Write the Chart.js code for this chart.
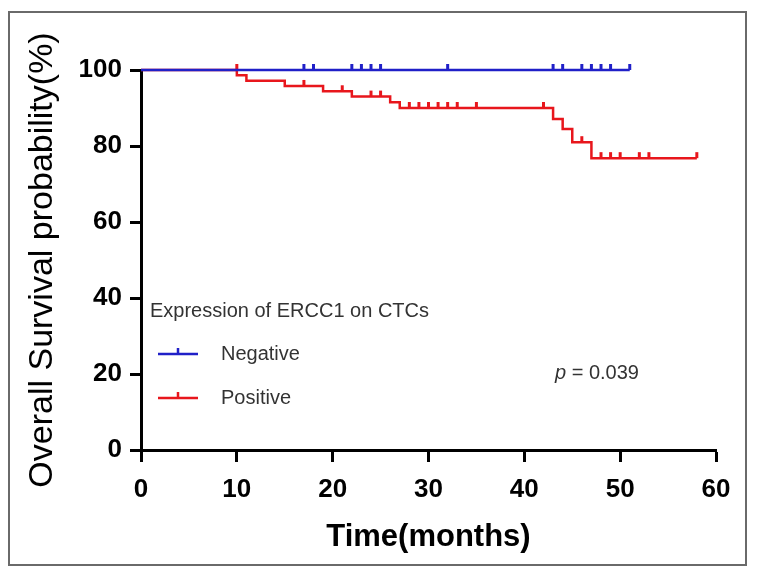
<!DOCTYPE html>
<html>
<head>
<meta charset="utf-8">
<script src="https://cdn.jsdelivr.net/npm/chart.js@4.4.1/dist/chart.umd.min.js"></script>
<style>
  html, body { margin: 0; padding: 0; background: #fff; }
  #wrap { width: 757px; height: 571px; position: relative; }
</style>
</head>
<body>
<div id="wrap"><canvas id="c" width="757" height="571"></canvas></div>
<script>
// ---- Data ----
const xTicks = [0, 10, 20, 30, 40, 50, 60];
const yTicks = [0, 20, 40, 60, 80, 100];

const negTimes = [0, 51];
const negSurv = [100, 100];
const negCensorTimes = [17, 18, 22, 23, 24, 25, 32, 43, 44, 46, 47, 48, 49, 51];
const negCensorSurv = [100, 100, 100, 100, 100, 100, 100, 100, 100, 100, 100, 100, 100, 100];

const posTimes = [0, 10, 11, 15, 19, 22, 26, 27, 43, 44, 45, 47, 58];
const posSurv = [100, 98.6, 97.2, 95.8, 94.4, 93.0, 91.5, 90.0, 87.1, 84.5, 81.0, 76.8, 76.8];
const posCensorTimes = [10, 17, 21, 24, 25, 28, 29, 30, 31, 32, 33, 35, 42, 46, 48, 49, 50, 52, 53, 58];
const posCensorSurv = [100, 95.8, 94.4, 93.0, 93.0, 90.0, 90.0, 90.0, 90.0, 90.0, 90.0, 90.0, 90.0, 81.0, 76.8, 76.8, 76.8, 76.8, 76.8, 76.8];

const legendTitle = 'Expression of ERCC1 on CTCs';
const seriesNames = ['Negative', 'Positive'];
const pValueText = '= 0.039';

const BLUE = '#2020c8';
const RED = '#e8161c';
const FONT = '"Liberation Sans", Arial, sans-serif';

const pts = (xs, ys) => xs.map((x, i) => ({x: x, y: ys[i]}));

const framePlugin = {
  id: 'frame',
  beforeDraw(chart) {
    const ctx = chart.ctx;
    ctx.save();
    ctx.fillStyle = '#fff';
    ctx.fillRect(0, 0, chart.width, chart.height);
    ctx.strokeStyle = '#6a6a6a';
    ctx.lineWidth = 2;
    ctx.strokeRect(9, 12, 737, 553);
    ctx.restore();
  }
};

const legendPlugin = {
  id: 'kmLegend',
  afterDraw(chart) {
    const ctx = chart.ctx;
    ctx.save();
    ctx.fillStyle = '#333';
    ctx.textBaseline = 'middle';
    ctx.font = '20px ' + FONT;
    ctx.fillText(legendTitle, 150, 311);
    const colors = [chart.data.datasets[0].borderColor, chart.data.datasets[2].borderColor];
    const rowsY = [354, 398];
    for (let i = 0; i < 2; i++) {
      const y = rowsY[i];
      ctx.strokeStyle = colors[i];
      ctx.lineWidth = 2.5;
      ctx.beginPath();
      ctx.moveTo(158, y); ctx.lineTo(198, y);
      ctx.moveTo(178, y); ctx.lineTo(178, y - 6);
      ctx.stroke();
      ctx.fillStyle = '#333';
      ctx.fillText(seriesNames[i], 221, y);
    }
    // p value
    ctx.font = 'italic 20px ' + FONT;
    ctx.fillText('p', 555, 373);
    const pw = ctx.measureText('p ').width;
    ctx.font = '20px ' + FONT;
    ctx.fillText(pValueText, 555 + pw, 373);
    ctx.restore();
  }
};

const censorCommon = {
  type: 'scatter',
  showLine: false,
  pointStyle: 'dash',
  rotation: -90,
  pointRadius: 6,
  pointHoverRadius: 6,
  borderWidth: 3,
  clip: false
};

new Chart(document.getElementById('c'), {
  type: 'line',
  data: {
    datasets: [
      { label: seriesNames[0], data: pts(negTimes, negSurv), borderColor: BLUE, borderWidth: 2.5, stepped: true, pointRadius: 0, fill: false, clip: false, order: 1 },
      Object.assign({ label: seriesNames[0] + ' censored', data: pts(negCensorTimes, negCensorSurv), borderColor: BLUE, backgroundColor: BLUE, order: 1 }, censorCommon),
      { label: seriesNames[1], data: pts(posTimes, posSurv), borderColor: RED, borderWidth: 2.5, stepped: true, pointRadius: 0, fill: false, clip: false, order: 2 },
      Object.assign({ label: seriesNames[1] + ' censored', data: pts(posCensorTimes, posCensorSurv), borderColor: RED, backgroundColor: RED, order: 2 }, censorCommon)
    ]
  },
  options: {
    responsive: false,
    animation: false,
    layout: { padding: { top: 70, right: 41, left: 0, bottom: 0 } },
    plugins: { legend: { display: false }, tooltip: { enabled: false } },
    scales: {
      x: {
        type: 'linear', min: 0, max: 60,
        afterBuildTicks: (s) => { s.ticks = xTicks.map(v => ({value: v})); },
        afterFit: (s) => { s.height = 121; },
        border: { color: '#000', width: 3 },
        grid: { display: true, drawOnChartArea: false, drawTicks: true, tickLength: 12, tickWidth: 3, tickColor: '#000' },
        ticks: { color: '#000', font: { family: FONT, size: 26, weight: 'bold' }, padding: 12 },
        title: { display: true, text: 'Time(months)', color: '#000', font: { family: FONT, size: 31, weight: 'bold' }, padding: { top: 0, bottom: 15 } }
      },
      y: {
        type: 'linear', min: 0, max: 100,
        afterBuildTicks: (s) => { s.ticks = yTicks.map(v => ({value: v})); },
        afterFit: (s) => { s.width = 141; },
        border: { color: '#000', width: 3 },
        grid: { display: true, drawOnChartArea: false, drawTicks: true, tickLength: 11, tickWidth: 3, tickColor: '#000' },
        ticks: { color: '#000', font: { family: FONT, size: 26, weight: 'bold' }, padding: 8 },
        title: { display: true, text: 'Overall Survival probability(%)', color: '#000', font: { family: FONT, size: 34, weight: 'normal' }, padding: { top: 22, bottom: 0 } }
      }
    }
  },
  plugins: [framePlugin, legendPlugin]
});
</script>
</body>
</html>
